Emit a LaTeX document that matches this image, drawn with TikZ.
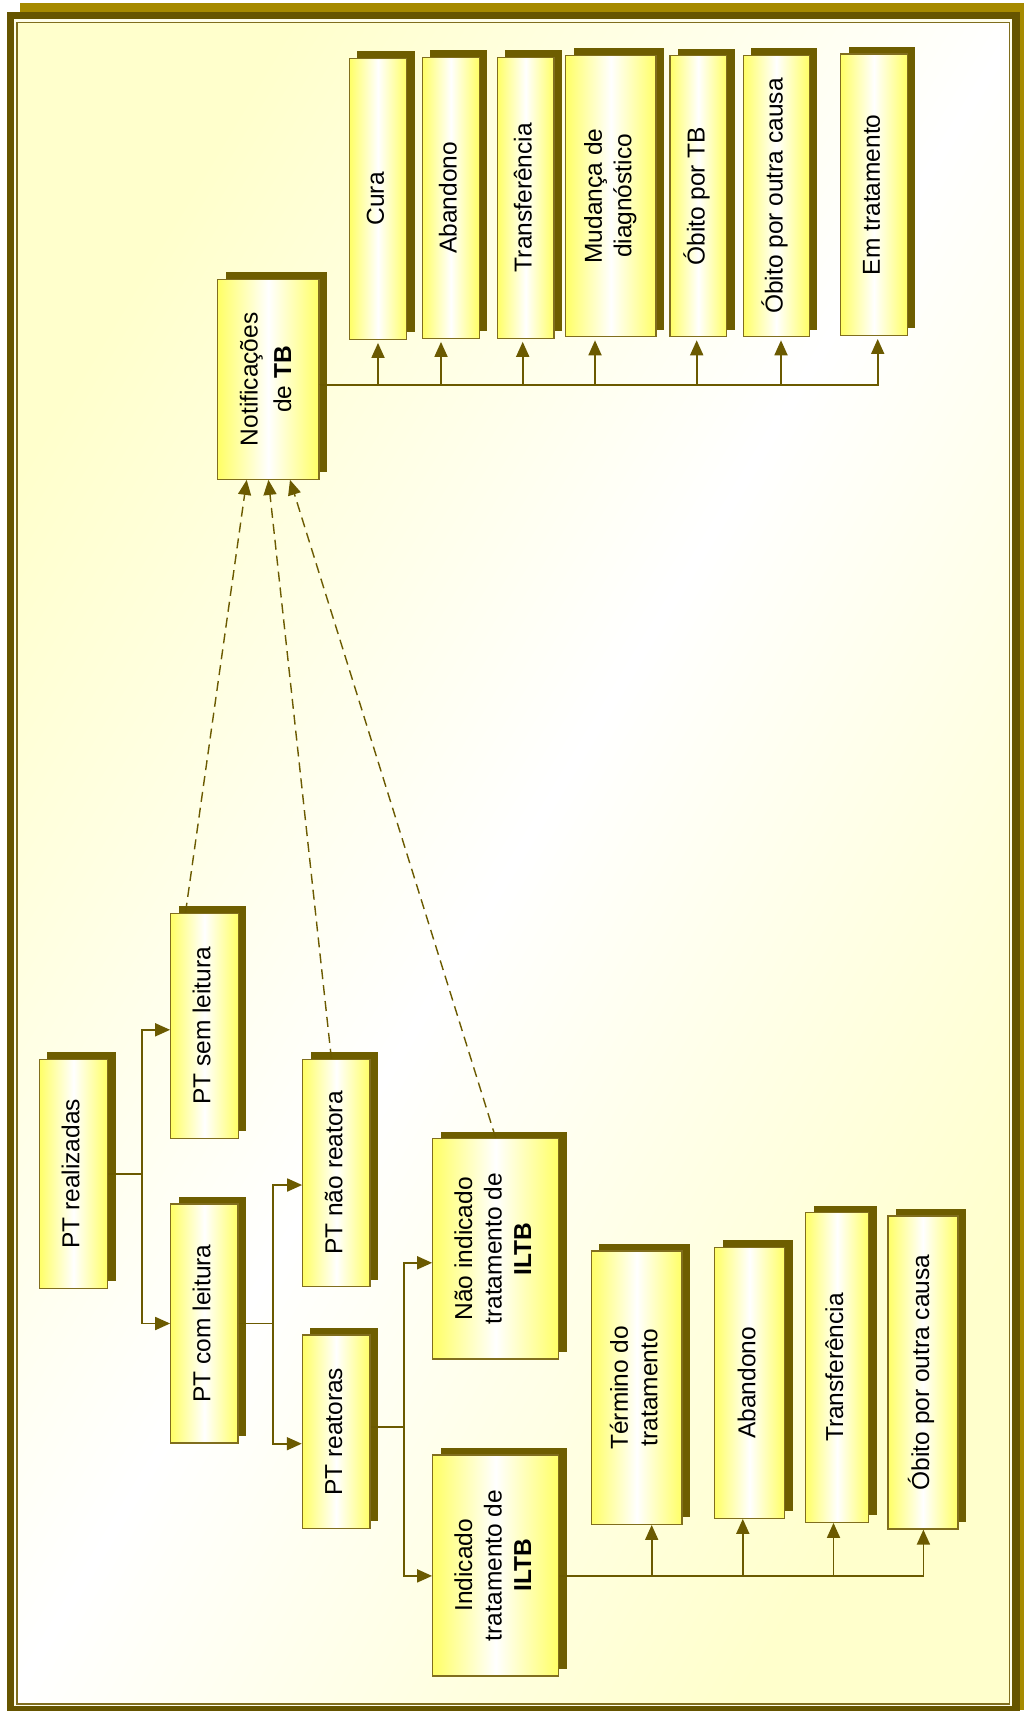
\documentclass[tikz,border=0pt]{standalone}
\usepackage{fontspec}
\setmainfont{Liberation Sans}
\usepackage{graphicx}
\usetikzlibrary{arrows.meta,shadows}

\definecolor{framegold}{RGB}{166,138,0}
\definecolor{framedark}{RGB}{102,85,0}
\definecolor{boxshadow}{RGB}{110,94,0}
\definecolor{boxline}{RGB}{128,110,30}
\definecolor{lineolive}{RGB}{107,90,0}
\definecolor{boxyellow}{RGB}{255,255,102}
\definecolor{bgyellow}{RGB}{255,255,204}

\def\vlabel#1{\rotatebox{90}{\begin{tabular}{@{}c@{}}#1\end{tabular}}}

\tikzset{
	stagebox/.style={draw=boxline, line width=1.2pt, left color=boxyellow, right color=boxyellow, middle color=white,
		inner sep=0pt, font=\fontsize{24.5}{29.5}\selectfont,
		drop shadow={shadow xshift=8pt, shadow yshift=7pt, fill=boxshadow, opacity=1}},
	sz/.style 2 args={minimum width=#1pt, minimum height=#2pt},
	conn/.style={draw=lineolive, line width=1.8pt},
	arr/.style={conn, -{Triangle[length=15pt,width=13pt]}},
	dashline/.style={arr, line width=1.4pt, dash pattern=on 10pt off 6pt},
}

\begin{document}
\begin{tikzpicture}[x=1pt, y=-1pt]
			%%%%% START %%%%%
			\useasboundingbox (0,0) rectangle (1024,1711);
			
			% frame
			\fill[framegold] (20,2.5) rectangle (1024,1710);
			\fill[framedark] (7.3,12.3) rectangle (1020,1711);
			\fill[bgyellow!40] (14,19) rectangle (1012,1706);
			\shade[top color=bgyellow, bottom color=bgyellow, middle color=white, shading angle=59] (17,22.5) rectangle (1009.5,1704);
			\draw[boxline, line width=1.5pt] (17,22.5) rectangle (1009.5,1704);
			
			% notificacoes
			\node[stagebox, sz={101.3}{200}] (notif) at (268.4,379.3) {\vlabel{Notificações\\[4pt]de \textbf{TB}}};
			\node[stagebox, sz={57.4}{281}] (cura) at (378,198.8) {\vlabel{Cura}};
			\node[stagebox, sz={57}{281}] (aband) at (450.8,197.8) {\vlabel{Abandono}};
			\node[stagebox, sz={56.7}{281}] (transf) at (525.7,197.7) {\vlabel{Transferência}};
			\node[stagebox, sz={90.3}{281.4}] (mudanca) at (610.8,196) {\vlabel{Mudança de\\diagnóstico}};
			\node[stagebox, sz={56.7}{281}] (obitotb) at (698.3,196.2) {\vlabel{Óbito por TB}};
			\node[stagebox, sz={66}{281.4}] (obitooc) at (776.3,196) {\vlabel{Óbito por outra causa}};
			\node[stagebox, sz={66.6}{281.3}] (emtrat) at (874,194.7) {\vlabel{Em tratamento}};
			
			% PT
			\node[stagebox, sz={68.4}{229}] (realiz) at (73.5,1173.8) {\vlabel{PT realizadas}};
			\node[stagebox, sz={67.6}{225}] (semleit) at (204.5,1025.8) {\vlabel{PT sem leitura}};
			\node[stagebox, sz={67.3}{239}] (comleit) at (204.4,1323.5) {\vlabel{PT com leitura}};
			\node[stagebox, sz={67.3}{227.4}] (naoreat) at (336.4,1173) {\vlabel{PT não reatora}};
			\node[stagebox, sz={67.7}{193.4}] (reat) at (336.2,1431.7) {\vlabel{PT reatoras}};
			\node[stagebox, sz={126}{220.5}] (naoind) at (495.7,1248.8) {\vlabel{Não indicado\\tratamento de\\\textbf{ILTB}}};
			\node[stagebox, sz={126}{221}] (ind) at (495.7,1565.4) {\vlabel{Indicado\\tratamento de\\\textbf{ILTB}}};
			
			% ILTB
			\node[stagebox, sz={90.7}{273.3}] (termino) at (636.7,1387.7) {\vlabel{Término do\\tratamento}};
			\node[stagebox, sz={70}{271}] (aband2) at (749.5,1382.8) {\vlabel{Abandono}};
			\node[stagebox, sz={63.2}{309.6}] (transf2) at (837.2,1367.5) {\vlabel{Transferência}};
			\node[stagebox, sz={70}{313}] (obito2) at (922.9,1372.5) {\vlabel{Óbito por outra causa}};
			
			% connectors
			\coordinate (b1) at ([yshift=-5.7pt]notif.east);
			\foreach \n/\dx in {cura/0,aband/-9.8,transf/-3,mudanca/-15.8,obitotb/-1.6,obitooc/4.7,emtrat/3.7}{
				\coordinate (t) at ([xshift=\dx pt]\n.south);
				\draw[arr, shorten >=3pt] (b1) -| (t);
			}
			
			\coordinate (j1) at ([xshift=34pt]realiz.east);
			\draw[conn] (realiz.east) -- (j1);
			\draw[arr] (j1) |- ([yshift=-4pt]semleit.west);
			\draw[arr] (j1) |- (comleit.west);
			
			\coordinate (j2) at ([xshift=34pt]comleit.east);
			\draw[conn] (comleit.east) -- (j2);
			\draw[arr] (j2) |- ([yshift=-12pt]naoreat.west);
			\draw[arr] (j2) |- ([yshift=-12pt]reat.west);
			
			\coordinate (j3) at ([xshift=33.5pt,yshift=5pt]reat.east);
			\draw[conn] ([yshift=5pt]reat.east) -- (j3);
			\draw[arr] (j3) |- ([yshift=-14pt]naoind.west);
			\draw[arr] (j3) |- ([yshift=-10.5pt]ind.west);
			
			\coordinate (b2) at ([yshift=-10.5pt]ind.east);
			\foreach \n/\dx in {termino/15,aband2/-6.7,transf2/-3.7,obito2/0.5}{
				\coordinate (t) at ([xshift=\dx pt]\n.south);
				\draw[arr] (b2) -| (t);
			}
			
			\draw[dashline] ([xshift=-19pt]semleit.north) -- ([xshift=-21.7pt]notif.south);
			\draw[dashline] ([xshift=-5pt]naoreat.north) -- (notif.south);
			\draw[dashline] (naoind.north) -- ([xshift=21.6pt]notif.south);
			
			%%%%% END %%%%%
\end{tikzpicture}
\end{document}
